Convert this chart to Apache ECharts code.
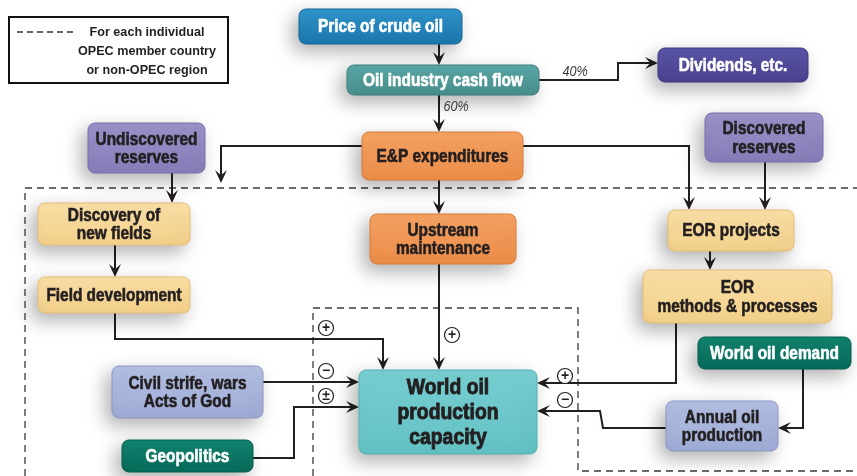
<!DOCTYPE html>
<html><head><meta charset="utf-8">
<script src="https://cdn.jsdelivr.net/npm/echarts@6/dist/echarts.min.js"></script>
<style>html,body{margin:0;padding:0;background:#fff}#c{width:857px;height:476px}</style>
</head><body><div id="c"></div>
<script>
// ---------- data ----------
const nodeNames = [
  'Price of crude oil', 'Oil industry cash flow', 'Dividends, etc.',
  'Undiscovered\nreserves', 'E&P expenditures', 'Discovered\nreserves',
  'Discovery of\nnew fields', 'Upstream\nmaintenance', 'EOR projects',
  'EOR\nmethods & processes', 'Field development', 'World oil demand',
  'Civil strife, wars\nActs of God', 'World oil\nproduction\ncapacity',
  'Annual oil\nproduction', 'Geopolitics'
];
const nodeKinds = [
  'blue', 'teal', 'indigo', 'lavender', 'orange', 'lavender',
  'sand', 'orange', 'sand', 'sand', 'sand', 'green',
  'periwinkle', 'aqua', 'periwinkle', 'green'
];
// box extents [left, top, right, bottom] in diagram units
const nodeBoxes = [
  [299, 9, 462, 44], [347, 65, 539, 95], [658, 48, 808, 82],
  [88, 123, 205, 173], [362, 132, 523, 180], [705, 113, 823, 162],
  [38, 203, 190, 245], [370, 214, 516, 264], [668, 210, 794, 251],
  [643, 270, 832, 323], [38, 277, 190, 313], [698, 337, 851, 369],
  [112, 366, 263, 418], [359, 370, 537, 454], [666, 401, 778, 451],
  [122, 440, 253, 472]
];
// connectors (last point carries the arrow head)
const linkPaths = [
  [[439, 44], [439, 65]],
  [[439, 95], [439, 132]],
  [[539, 80], [618, 80], [618, 63], [658, 63]],
  [[362, 146], [221, 146], [221, 183]],
  [[523, 146], [689, 146], [689, 210]],
  [[172, 173], [172, 203]],
  [[765, 162], [765, 210]],
  [[439, 180], [439, 214]],
  [[710, 251], [710, 270]],
  [[115, 245], [115, 277]],
  [[115, 313], [115, 339], [383, 339], [383, 370]],
  [[439, 264], [439, 370]],
  [[263, 382], [359, 382]],
  [[253, 458], [294, 458], [294, 407], [359, 407]],
  [[676, 323], [676, 383], [537, 383]],
  [[803, 369], [803, 428], [778, 428]],
  [[666, 428], [603, 428], [600, 411], [537, 411]]
];
const signTexts = ['+', '−', '±', '+', '+', '−'];
const signSpots = [[326, 328], [326, 371], [326, 396], [452, 335], [565, 376], [565, 400]];
const shareTexts = ['40%', '60%'];
const shareSpots = [[575, 72], [456, 107]];
const dashedPaths = [
  [[25, 476], [25, 188], [857, 188]],
  [[313, 476], [313, 308], [578, 308], [578, 471], [857, 471]]
];
const legendLines = ['For each individual', 'OPEC member country', 'or non-OPEC region'];

// ---------- styles ----------
const FONT = "'Liberation Sans','Arimo',Arial,sans-serif";
const INK = '#231f20';
const kinds = {
  blue:       {top: '#2f95cc', bot: '#1b76ad', stroke: '#176799', text: '#ffffff'},
  teal:       {top: '#5aa7a5', bot: '#468f8d', stroke: '#3d7f7d', text: '#ffffff'},
  indigo:     {top: '#5b55a8', bot: '#48428f', stroke: '#3e3980', text: '#ffffff'},
  lavender:   {top: '#9a93c9', bot: '#857db8', stroke: '#766eaa', text: INK},
  orange:     {top: '#f5a363', bot: '#ec8c48', stroke: '#dc7a36', text: INK},
  sand:       {top: '#fae0a6', bot: '#f3d08a', stroke: '#e6bd74', text: INK},
  periwinkle: {top: '#b4c0e3', bot: '#9eabd5', stroke: '#8b97c2', text: INK},
  green:      {top: '#11836f', bot: '#076b5a', stroke: '#055c4d', text: '#ffffff'},
  aqua:       {top: '#78cfd2', bot: '#62c1c4', stroke: '#52b1b4', text: INK}
};

const chart = echarts.init(document.getElementById('c'));

function grad(k) {
  return new echarts.graphic.LinearGradient(0, 0, 0, 1, [
    {offset: 0, color: kinds[k].top}, {offset: 1, color: kinds[k].bot}
  ]);
}

const option = {
  animation: false,
  backgroundColor: '#ffffff',
  grid: {left: 0, right: 0, top: 0, bottom: 0},
  xAxis: {type: 'value', min: 0, max: 857, show: false},
  yAxis: {type: 'value', min: 0, max: 476, inverse: true, show: false},
  series: [
    { // dashed frames
      type: 'custom', coordinateSystem: 'cartesian2d', silent: true, z: 1,
      data: dashedPaths.map(p => p[0]),
      renderItem(params, api) {
        const pts = dashedPaths[params.dataIndex].map(p => api.coord(p));
        return {type: 'polyline', shape: {points: pts},
          style: {fill: null, stroke: '#3a3a3a', lineWidth: 1.3, lineDash: [7, 5]}};
      }
    },
    { // connectors
      type: 'custom', coordinateSystem: 'cartesian2d', silent: true, z: 2,
      data: linkPaths.map(p => p[0]),
      renderItem(params, api) {
        const pts = linkPaths[params.dataIndex].map(p => api.coord(p));
        const n = pts.length;
        const E = pts[n - 1], P = pts[n - 2];
        let dx = E[0] - P[0], dy = E[1] - P[1];
        const len = Math.hypot(dx, dy); dx /= len; dy /= len;
        const L = 13, W = 6, nx = -dy, ny = dx;
        const notch = [E[0] - dx * L * 0.6, E[1] - dy * L * 0.6];
        const linePts = pts.slice(0, n - 1).concat([notch]);
        return {type: 'group', children: [
          {type: 'polyline', shape: {points: linePts},
            style: {fill: null, stroke: INK, lineWidth: 2, lineJoin: 'miter'}},
          {type: 'polygon', shape: {points: [
            E,
            [E[0] - dx * L + nx * W, E[1] - dy * L + ny * W],
            notch,
            [E[0] - dx * L - nx * W, E[1] - dy * L - ny * W]
          ]}, style: {fill: INK, stroke: null}}
        ]};
      }
    },
    { // boxes
      type: 'custom', coordinateSystem: 'cartesian2d', silent: true, z: 3,
      data: nodeBoxes,
      renderItem(params, api) {
        const i = params.dataIndex;
        const a = api.coord([api.value(0), api.value(1)]);
        const b = api.coord([api.value(2), api.value(3)]);
        const k = nodeKinds[i];
        const big = k === 'aqua';
        return {type: 'group', children: [
          {type: 'rect', shape: {x: a[0], y: a[1], width: b[0] - a[0], height: b[1] - a[1], r: 7},
            style: {fill: grad(k), stroke: kinds[k].stroke, lineWidth: 1,
              shadowBlur: 18, shadowColor: 'rgba(0,0,0,0.30)', shadowOffsetX: -6, shadowOffsetY: 7}},
          {type: 'text', x: (a[0] + b[0]) / 2, y: (a[1] + b[1]) / 2 + 1, scaleX: 0.88,
            style: {text: nodeNames[i], fill: kinds[k].text, fontFamily: FONT, fontWeight: 'bold',
              stroke: kinds[k].text, lineWidth: big ? 0.9 : 0.6,
              fontSize: big ? 22 : 17.5, lineHeight: big ? 25 : 18.5, align: 'center', verticalAlign: 'middle'}}
        ]};
      }
    },
    { // +/- signs
      type: 'custom', coordinateSystem: 'cartesian2d', silent: true, z: 4,
      data: signSpots,
      renderItem(params, api) {
        const c = api.coord([api.value(0), api.value(1)]);
        return {type: 'group', children: [
          {type: 'circle', shape: {cx: c[0], cy: c[1], r: 7.5},
            style: {fill: '#ffffff', stroke: INK, lineWidth: 1.2}},
          {type: 'text', x: c[0], y: c[1] + 0.5,
            style: {text: signTexts[params.dataIndex], fill: INK, fontFamily: FONT, fontWeight: 'bold',
              fontSize: 14, align: 'center', verticalAlign: 'middle'}}
        ]};
      }
    },
    { // share labels
      type: 'custom', coordinateSystem: 'cartesian2d', silent: true, z: 4,
      data: shareSpots,
      renderItem(params, api) {
        const c = api.coord([api.value(0), api.value(1)]);
        return {type: 'text', x: c[0], y: c[1], scaleX: 0.9,
          style: {text: shareTexts[params.dataIndex], fill: '#3a3a3a', fontFamily: FONT,
            fontStyle: 'italic', fontSize: 14, align: 'center', verticalAlign: 'middle'}};
      }
    }
  ],
  graphic: [
    {type: 'rect', shape: {x: 9, y: 17, width: 219, height: 66}, z: 10,
      style: {fill: '#ffffff', stroke: '#111', lineWidth: 2}},
    {type: 'line', shape: {x1: 17, y1: 32, x2: 76, y2: 32}, z: 11,
      style: {stroke: '#333', lineWidth: 1.3, lineDash: [6, 4]}}
  ].concat(legendLines.map((t, i) => ({
    type: 'text', x: 147, y: 32 + i * 19, z: 11, scaleX: 0.97,
    style: {text: t, fill: INK, fontFamily: FONT, fontWeight: 'bold', fontSize: 13,
      align: 'center', verticalAlign: 'middle'}
  })))
};
chart.setOption(option);
</script>
</body></html>
